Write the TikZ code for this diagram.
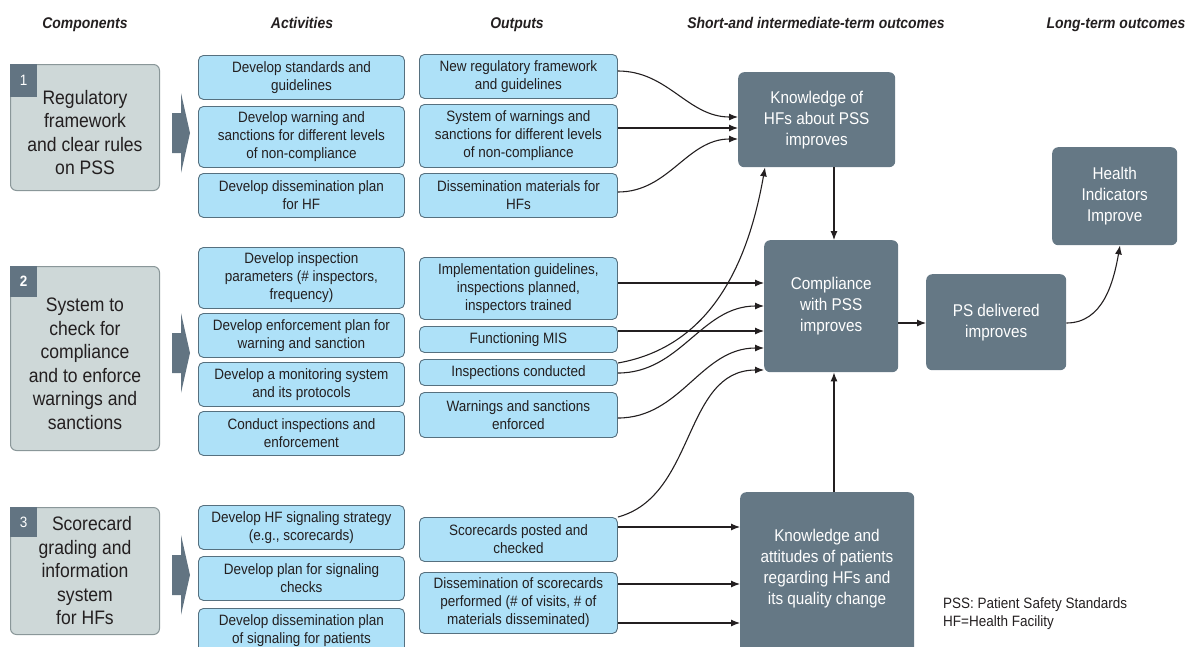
\documentclass[tikz,border=0pt]{standalone}
\usepackage{fontspec}
\setmainfont{Liberation Sans}[FakeStretch=0.9]
\usetikzlibrary{arrows.meta}
\definecolor{txt}{HTML}{231F20}
\definecolor{compfill}{HTML}{CED8D8}
\definecolor{compdraw}{HTML}{8A9799}
\definecolor{tabfill}{HTML}{627482}
\definecolor{bluefill}{HTML}{AEE1F8}
\definecolor{bluedraw}{HTML}{56707F}
\definecolor{darkfill}{HTML}{657885}
\begin{document}
\begin{tikzpicture}[x=1pt,y=-1pt,
  head/.style={font=\fontsize{15.5}{18}\selectfont\bfseries\itshape, text=txt, inner sep=0pt, anchor=base},
  compbox/.style={draw=compdraw, fill=compfill, line width=1pt, rounded corners=6pt, align=center,
    font=\fontsize{19.5}{23.5}\selectfont, text=txt, anchor=north west, inner sep=0pt,
    minimum width=149pt},
  tabbox/.style={fill=tabfill, anchor=north west, inner sep=0pt, minimum width=27pt,
    text=white, font=\fontsize{15}{18}\selectfont},
  actbox/.style={draw=bluedraw, fill=bluefill, line width=0.9pt, rounded corners=5pt, align=center,
    font=\fontsize{15}{18}\selectfont, text=txt, anchor=north west, inner sep=0pt},
  outbox/.style={draw=none, fill=darkfill, rounded corners=6pt, align=center,
    font=\fontsize{17}{21}\selectfont, text=white, anchor=north west, inner sep=0pt},
  chev/.style={fill=tabfill},
  conn/.style={line width=1.1pt, draw=txt, -{Latex[length=9pt,width=7pt]}},
  legend/.style={font=\fontsize{15}{18}\selectfont, text=txt, align=left, anchor=north west, inner sep=0pt}
]
\useasboundingbox (0,0) rectangle (1190,646);

% headings
\node[head] (h1) at (85,28) {Components};
\node[head] (h2) at (302,28) {Activities};
\node[head] (h3) at (517,28) {Outputs};
\node[head] (h4) at (816,28) {Short-and intermediate-term outcomes};
\node[head] (h5) at (1116,28) {Long-term outcomes};

% components
\node[compbox, minimum height=126pt] (c1) at (10,64) {\rule{0pt}{24pt}Regulatory\\framework\\and clear rules\\on PSS};
\node[tabbox, minimum height=33pt] (t1) at (c1.north west) {1};
\node[compbox, minimum height=184pt] (c2) at (10,266) {\rule{0pt}{24pt}System to\\check for\\compliance\\and to enforce\\warnings and\\sanctions};
\node[tabbox, minimum height=31pt, font=\fontsize{15}{18}\selectfont\bfseries] (t2) at (c2.north west) {2};
\node[compbox, minimum height=127pt] (c3) at (10,507) {\hspace*{14pt}Scorecard\\grading and\\information\\system\\for HFs};
\node[tabbox, minimum height=30pt] (t3) at (c3.north west) {3};

% chevrons
\foreach \cy in {133,353,575}{
  \fill[chev] (172,\cy-20) -- (181,\cy-20) -- (181,\cy-40) -- (190,\cy) -- (181,\cy+40) -- (181,\cy+20) -- (172,\cy+20) -- cycle;
}

% activities
\node[actbox, minimum width=206pt, minimum height=44pt] (a1) at (198,55) {Develop standards and\\guidelines};
\node[actbox, minimum width=206pt, minimum height=61pt] (a2) at (198,106) {Develop warning and\\sanctions for different levels\\of non-compliance};
\node[actbox, minimum width=206pt, minimum height=44pt] (a3) at (198,173) {Develop dissemination plan\\for HF};
\node[actbox, minimum width=206pt, minimum height=61pt] (a4) at (198,247) {Develop inspection\\parameters (\# inspectors,\\frequency)};
\node[actbox, minimum width=206pt, minimum height=44pt] (a5) at (198,313) {Develop enforcement plan for\\warning and sanction};
\node[actbox, minimum width=206pt, minimum height=44pt] (a6) at (198,362) {Develop a monitoring system\\and its protocols};
\node[actbox, minimum width=206pt, minimum height=44pt] (a7) at (198,411) {Conduct inspections and\\enforcement};
\node[actbox, minimum width=206pt, minimum height=44pt] (a8) at (198,505) {Develop HF signaling strategy\\(e.g., scorecards)};
\node[actbox, minimum width=206pt, minimum height=44pt] (a9) at (198,556) {Develop plan for signaling\\checks};
\node[actbox, minimum width=206pt, minimum height=44pt] (a10) at (198,608) {Develop dissemination plan\\of signaling for patients};

% outputs
\node[actbox, minimum width=198pt, minimum height=44pt] (o1) at (419,54) {New regulatory framework\\and guidelines};
\node[actbox, minimum width=198pt, minimum height=63pt] (o2) at (419,104) {System of warnings and\\sanctions for different levels\\of non-compliance};
\node[actbox, minimum width=198pt, minimum height=44pt] (o3) at (419,173) {Dissemination materials for\\HFs};
\node[actbox, minimum width=198pt, minimum height=62pt] (o4) at (419,257) {Implementation guidelines,\\inspections planned,\\inspectors trained};
\node[actbox, minimum width=198pt, minimum height=26pt] (o5) at (419,326) {Functioning MIS};
\node[actbox, minimum width=198pt, minimum height=26pt] (o6) at (419,359) {Inspections conducted};
\node[actbox, minimum width=198pt, minimum height=45pt] (o7) at (419,392) {Warnings and sanctions\\enforced};
\node[actbox, minimum width=198pt, minimum height=44pt] (o8) at (419,517) {Scorecards posted and\\checked};
\node[actbox, minimum width=198pt, minimum height=61pt] (o9) at (419,572) {Dissemination of scorecards\\performed (\# of visits, \# of\\materials disseminated)};

% outcomes
\node[outbox, minimum width=157pt, minimum height=95pt] (k1) at (738,72) {Knowledge of\\HFs about PSS\\improves};
\node[outbox, minimum width=134pt, minimum height=132pt] (cp) at (764,240) {Compliance\\with PSS\\improves};
\node[outbox, minimum width=140pt, minimum height=96pt] (ps) at (926,274) {PS delivered\\improves};
\node[outbox, minimum width=125pt, minimum height=98pt] (hi) at (1052,147) {Health\\Indicators\\Improve};
\node[outbox, minimum width=174pt, minimum height=180pt] (k2) at (740,492) {};
\node[outbox, fill=none, anchor=center] (k2t) at (827,569) {Knowledge and\\attitudes of patients\\regarding HFs and\\its quality change};

% legend
\node[legend] (lg) at (943,597) {PSS: Patient Safety Standards\\HF=Health Facility};

% connectors
\draw[conn] (o1.east |- 0,71) to[out=0,in=180] (k1.west |- 0,117);
\draw[conn] (o2.east |- 0,128) -- (k1.west |- 0,128);
\draw[conn] (o3.east |- 0,192) to[out=0,in=180] (k1.west |- 0,139);
\draw[conn] (o4.east |- 0,283) -- (cp.west |- 0,283);
\draw[conn] (o5.east |- 0,331) -- (cp.west |- 0,331);
\draw[conn] (o6.east |- 0,363) to[out=10,in=-100] (k1.south -| 765,0);
\draw[conn] (o6.east |- 0,373) to[out=0,in=180] (cp.west |- 0,306);
\draw[conn] (o7.east |- 0,418) to[out=0,in=180] (cp.west |- 0,348);
\draw[conn] (o8.north east) to[out=15,in=180] (cp.west |- 0,370);
\draw[conn] (o8.east |- 0,527) -- (k2.west |- 0,527);
\draw[conn] (o9.east |- 0,584) -- (k2.west |- 0,584);
\draw[conn] (o9.east |- 0,623) -- (k2.west |- 0,623);
\draw[conn] (k1.south -| 834,0) -- (cp.north -| 834,0);
\draw[conn] (k2.north -| 834,0) -- (cp.south -| 834,0);
\draw[conn] (cp.east |- 0,323) -- (ps.west |- 0,323);
\draw[conn] (ps.east |- 0,323) to[out=0,in=-100] (hi.south -| 1120,0);
\end{tikzpicture}
\end{document}
